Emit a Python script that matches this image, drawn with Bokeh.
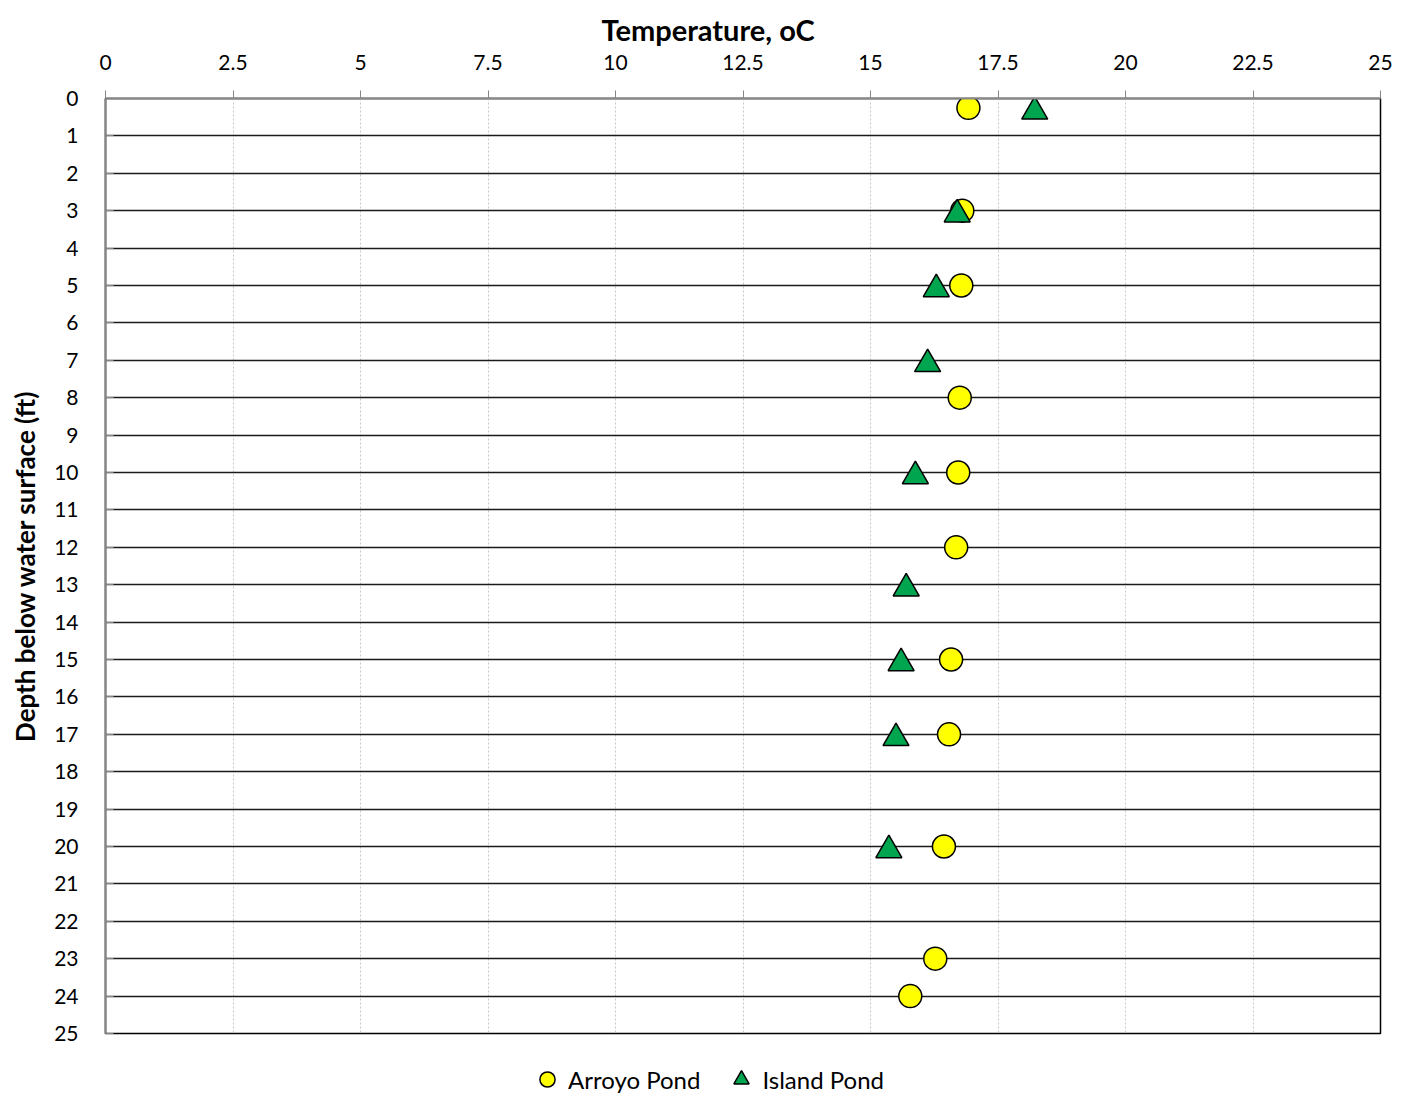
from bokeh.plotting import figure
from bokeh.layouts import column
from bokeh.models import Range1d, FixedTicker, Legend, LegendItem, Title, ColumnDataSource
from bokeh.transform import dodge
from bokeh.embed import file_html
from bokeh.resources import INLINE

arroyo_depth = [0.25, 3, 5, 8, 10, 12, 15, 17, 20, 23, 24]
arroyo_temp = [16.92, 16.80, 16.78, 16.75, 16.72, 16.68, 16.58, 16.54, 16.44, 16.27, 15.78]
island_depth = [0.25, 3, 5, 7, 10, 13, 15, 17, 20]
island_temp = [18.22, 16.70, 16.29, 16.12, 15.88, 15.70, 15.60, 15.50, 15.36]
series_names = ["Arroyo Pond", "Island Pond"]

x_ticks = [0, 2.5, 5, 7.5, 10, 12.5, 15, 17.5, 20, 22.5, 25]
y_ticks = list(range(0, 26))

FONT = "Lato"
FW, FH = 1275, 935

p = figure(frame_width=FW, frame_height=FH, output_backend="svg", toolbar_location=None,
           x_range=Range1d(0, 25), y_range=Range1d(25, 0),
           x_axis_location="above", min_border_left=105, min_border_right=13,
           min_border_top=98, min_border_bottom=12)
p.outline_line_color = "black"
p.outline_line_width = 1.5

p.add_layout(Title(text="Temperature, oC", align="left", offset=496,
                   text_font=FONT, text_font_style="bold", text_font_size="29px",
                   text_color="black", standoff=10), "above")

xa = p.xaxis[0]
xa.ticker = FixedTicker(ticks=x_ticks)
xa.major_label_overrides = {0: "0", 5: "5", 10: "10", 15: "15", 20: "20", 25: "25"}
xa.major_label_text_font = FONT
xa.major_label_text_font_size = "21px"
xa.major_label_text_color = "black"
xa.major_label_standoff = 21
xa.axis_line_color = "#868686"
xa.axis_line_width = 2
xa.major_tick_line_color = "#868686"
xa.major_tick_out = 8
xa.major_tick_in = 0
xa.minor_tick_line_color = None

ya = p.yaxis[0]
ya.ticker = FixedTicker(ticks=y_ticks)
ya.axis_label = "Depth below water surface (ft)"
ya.axis_label_text_font = FONT
ya.axis_label_text_font_style = "bold"
ya.axis_label_text_font_size = "26px"
ya.axis_label_text_color = "black"
ya.axis_label_standoff = 10
ya.major_label_text_font = FONT
ya.major_label_text_font_size = "21px"
ya.major_label_text_color = "black"
ya.major_label_standoff = 27
ya.axis_line_color = "#868686"
ya.axis_line_width = 2
ya.major_tick_line_color = "#868686"
ya.major_tick_in = 8
ya.major_tick_out = 0
ya.minor_tick_line_color = None

p.xgrid.ticker = FixedTicker(ticks=x_ticks[1:-1])
p.xgrid.grid_line_color = "#c8c8c8"
p.xgrid.grid_line_dash = "2 2"
p.xgrid.grid_line_width = 1
p.ygrid.ticker = FixedTicker(ticks=y_ticks[1:])
p.ygrid.grid_line_color = "#1a1a1a"
p.ygrid.grid_line_width = 1.6

src_a = ColumnDataSource(dict(t=arroyo_temp, d=arroyo_depth))
src_i = ColumnDataSource(dict(t=island_temp, d=island_depth))

circle_style = dict(marker="circle", fill_color="#ffff00", line_color="black", line_width=1.5)
tri_style = dict(marker="triangle", fill_color="#00a550", line_color="black", line_width=1.5)

p.scatter("t", "d", source=src_a, size=23, **circle_style)
# triangle drawn so its bounding box (not centroid) sits on the value
p.scatter("t", dodge("d", 0.1, range=p.y_range), source=src_i, size=26, **tri_style)

# legend strip below the chart (its ranges keep the series out of view; only the legend shows)
lg = figure(width=FW + 105 + 13, height=53, output_backend="svg", toolbar_location=None,
            x_range=Range1d(100, 101), y_range=Range1d(100, 101),
            x_axis_type=None, y_axis_type=None, min_border=0)
lg.outline_line_color = None
lg.grid.visible = False
l1 = lg.scatter("t", "d", source=src_a, size=17, **circle_style)
l2 = lg.scatter("t", "d", source=src_i, size=17, **tri_style)
legend = Legend(items=[LegendItem(label=series_names[0], renderers=[l1]),
                       LegendItem(label=series_names[1], renderers=[l2])],
                orientation="horizontal", location=(421, 0),
                label_text_font=FONT, label_text_font_size="24px",
                label_text_color="black",
                glyph_width=42, glyph_height=38, label_standoff=0,
                spacing=20, border_line_color=None, background_fill_alpha=0,
                padding=0, margin=0)
lg.add_layout(legend, "center")

layout = column(p, lg, spacing=0)
open("out.html", "w").write(file_html(layout, INLINE))
